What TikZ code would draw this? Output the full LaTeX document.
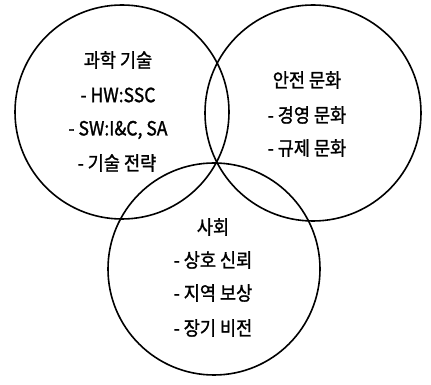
\documentclass[tikz,border=0pt]{standalone}
\usepackage{fontspec}
\setmainfont[FakeBold=1.3,FakeStretch=0.9]{Noto Sans CJK KR}
\begin{document}
\begin{tikzpicture}[x=1pt,y=1pt,
  ring/.style={draw=black,line width=1.6pt},
  lbl/.style={font=\fontsize{19.5}{22}\selectfont,inner sep=0pt,anchor=center}]
\useasboundingbox (0,0) rectangle (431,385);
\fill[white] (0,0) rectangle (431,385);
\draw[ring] (122,273) circle (107);
\draw[ring] (313,272) circle (108);
\draw[ring] (214,116) circle (106);
% left circle
\node[lbl] (a0) at (118,325) {과학 기술};
\node[lbl] (a1) at (118,290) {- HW:SSC};
\node[lbl] (a2) at (118,255) {- SW:I\&C, SA};
\node[lbl] (a3) at (117,222) {- 기술 전략};
% right circle
\node[lbl] (b0) at (307,305) {안전 문화};
\node[lbl] (b1) at (307,270) {- 경영 문화};
\node[lbl] (b2) at (307,237) {- 규제 문화};
% bottom circle
\node[lbl] (c0) at (213,158) {사회};
\node[lbl] (c1) at (213,125) {- 상호 신뢰};
\node[lbl] (c2) at (213,92) {- 지역 보상};
\node[lbl] (c3) at (213,57) {- 장기 비전};
\end{tikzpicture}
\end{document}
